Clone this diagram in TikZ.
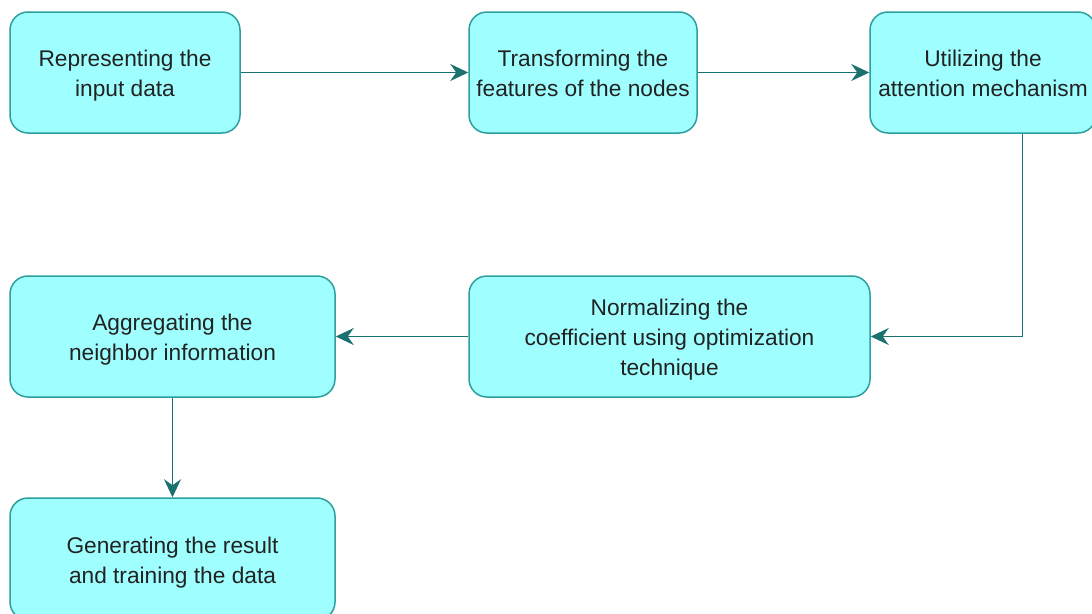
\documentclass[tikz,border=0pt]{standalone}
\usepackage{fontspec}
\setmainfont{Liberation Sans}
\usetikzlibrary{arrows.meta}
\definecolor{boxfill}{HTML}{9FFFFF}
\definecolor{boxline}{HTML}{2E9E9E}
\definecolor{arrowcol}{HTML}{1B7070}
\definecolor{txt}{HTML}{222222}
\newcommand{\boxlines}[1]{\raisebox{-3pt}[\height][\depth]{\begin{tabular}{@{}c@{}}#1\end{tabular}}}
\begin{document}
\begin{tikzpicture}[x=1pt,y=-1pt,
  box/.style={draw=boxline, fill=boxfill, line width=1.5pt, rounded corners=18pt,
    minimum height=121pt, inner sep=0pt, text=txt,
    font=\fontsize{22.7}{30}\selectfont},
  conn/.style={draw=arrowcol, line width=1.5pt,
    -{Stealth[length=18pt, width=17pt, inset=6pt]}}]
\useasboundingbox (0,0) rectangle (1092,613);
\node[box, minimum width=230pt] (b1) at (125,72.5) {\boxlines{Representing the\\input data}};
\node[box, minimum width=228pt] (b2) at (583,72.5) {\boxlines{Transforming the\\features of the nodes}};
\node[box, minimum width=226pt] (b3) at (983,72.5) {\boxlines{Utilizing the\\attention mechanism}};
\node[box, minimum width=401pt] (b4) at (669.5,336.5) {\boxlines{Normalizing the\\coefficient using optimization\\technique}};
\node[box, minimum width=325pt] (b5) at (172.5,336.5) {\boxlines{Aggregating the\\neighbor information}};
\node[box, minimum width=325pt, minimum height=122pt] (b6) at (172.5,559) {\boxlines{Generating the result\\and training the data}};
\coordinate (k) at (1022.5,336.5);
\draw[conn] (b1) -- (b2);
\draw[conn] (b2) -- (b3);
\draw[conn] (b3.south -| k) |- (b4.east);
\draw[conn] (b4) -- (b5);
\draw[conn] (b5) -- (b6);
\end{tikzpicture}
\end{document}
